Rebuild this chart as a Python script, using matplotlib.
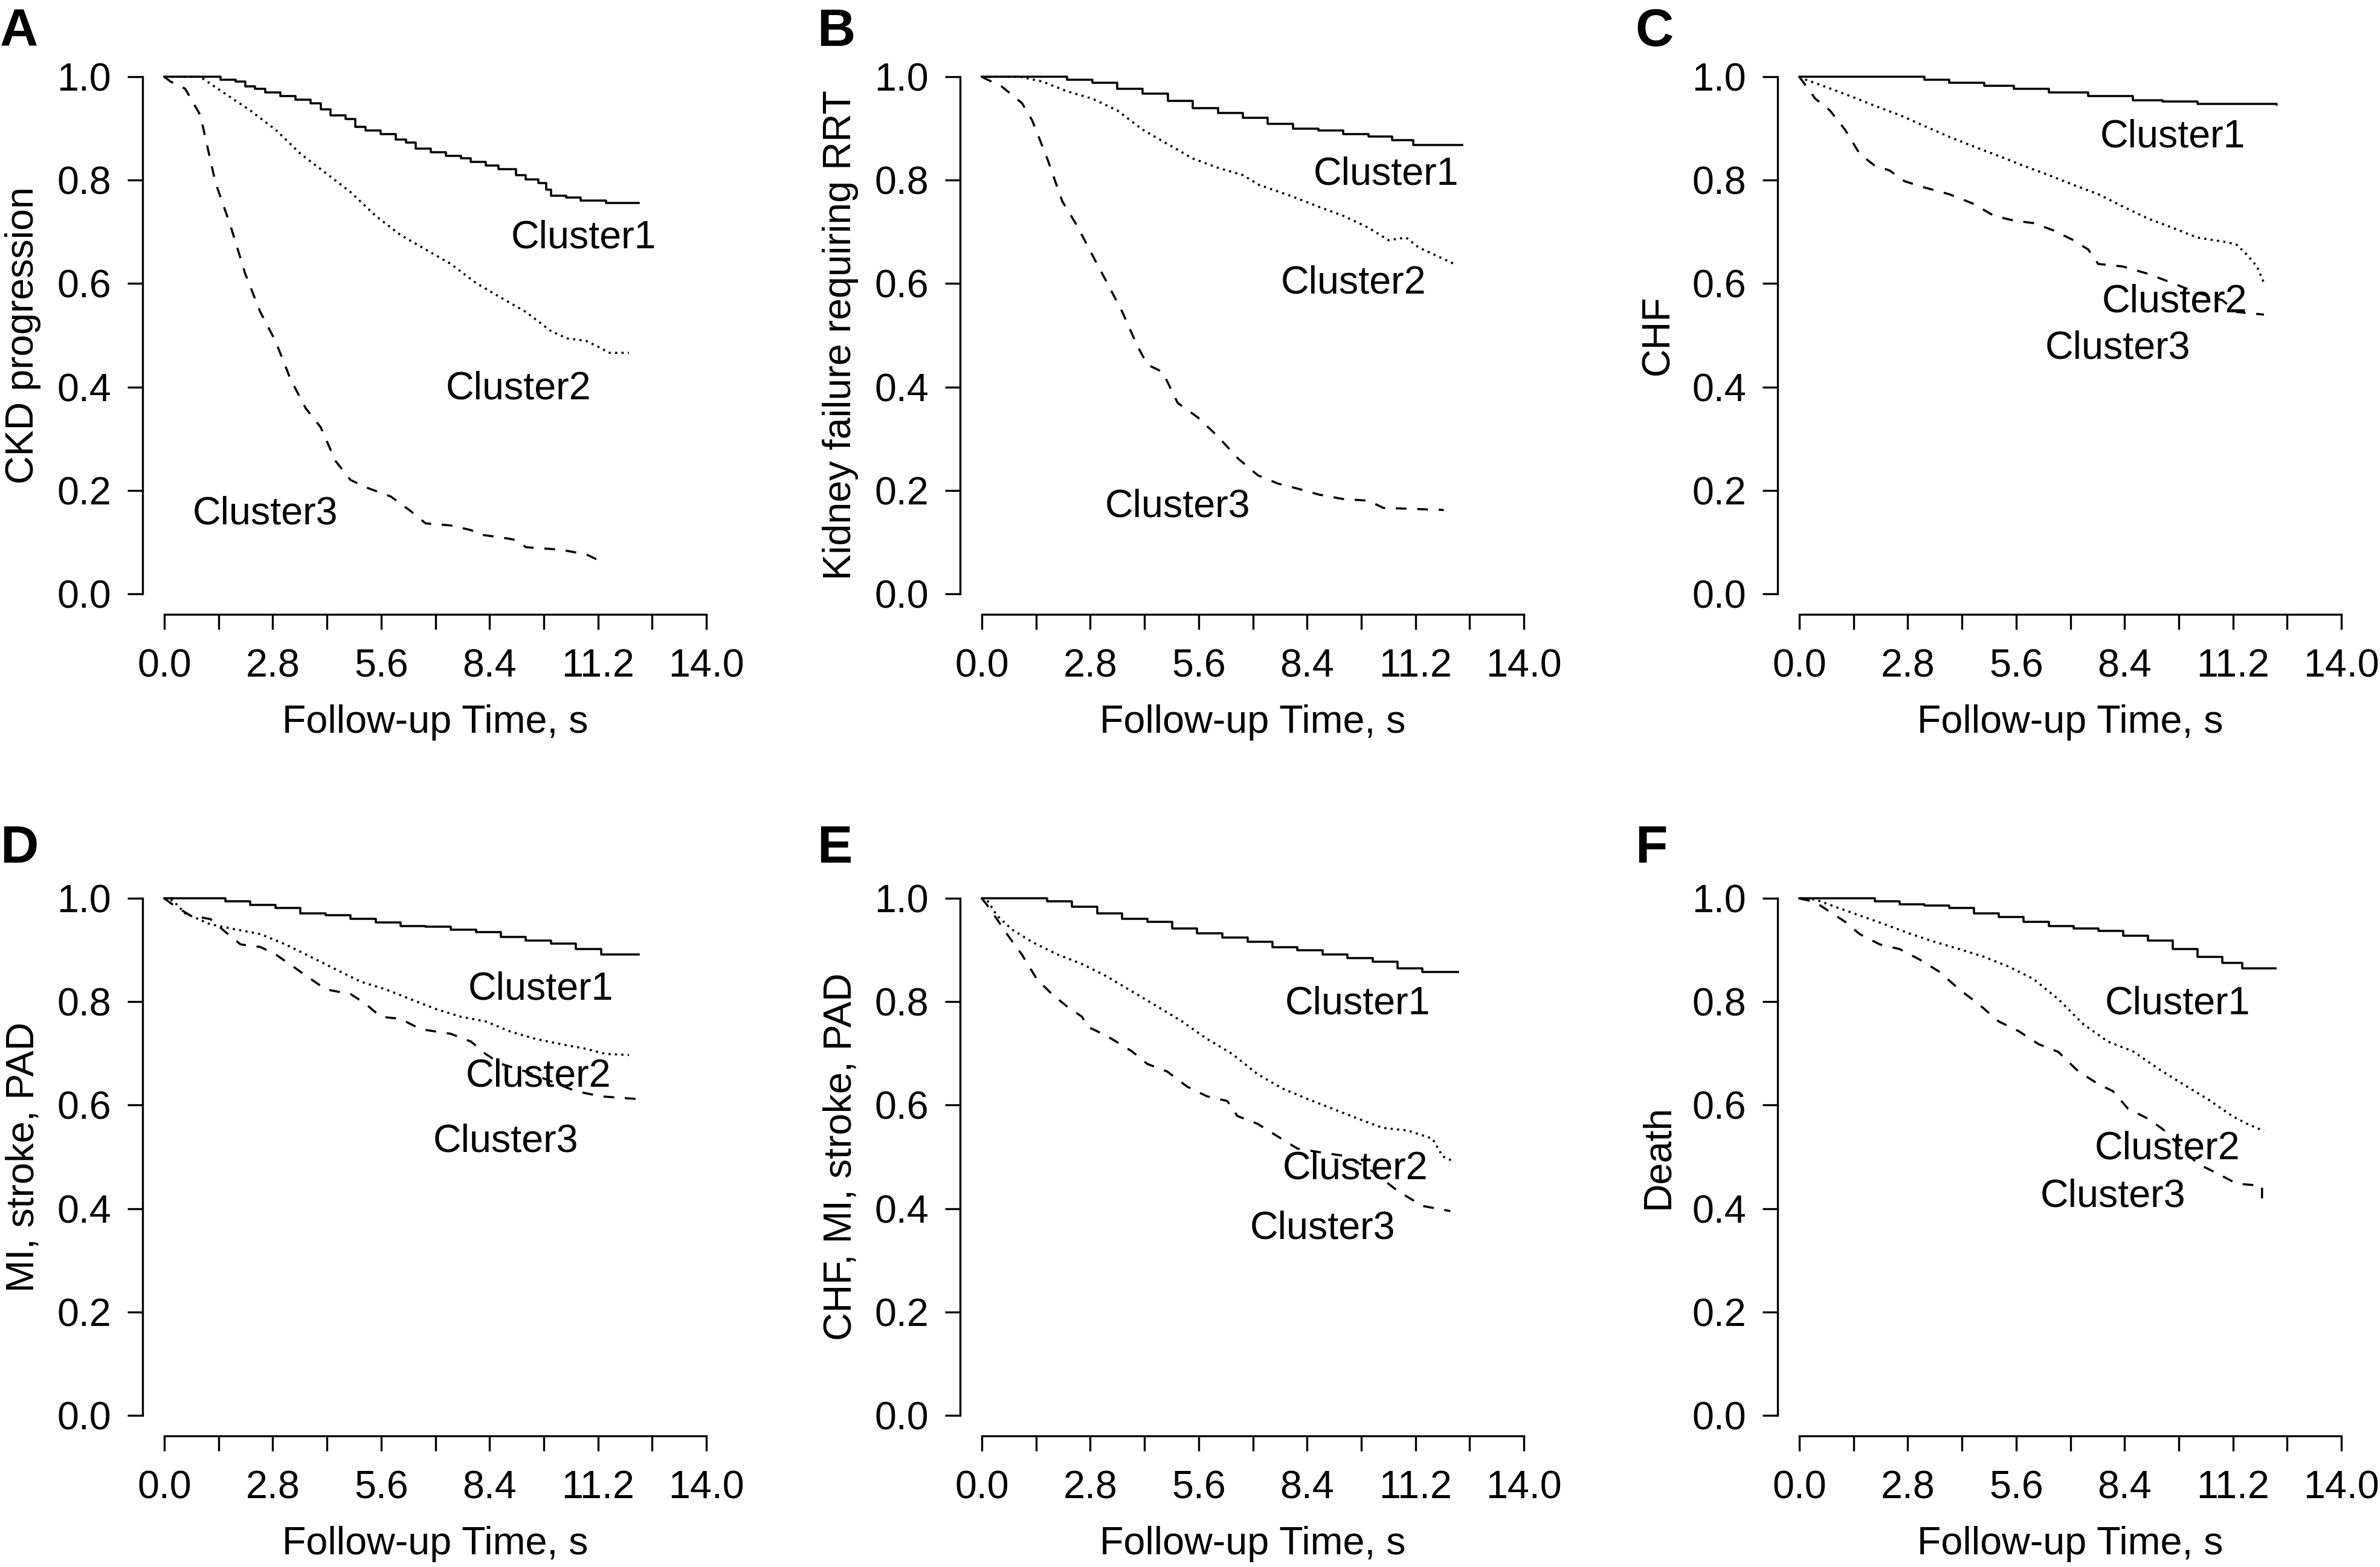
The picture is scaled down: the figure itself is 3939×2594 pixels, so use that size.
import matplotlib
matplotlib.use('Agg')
import matplotlib.pyplot as plt

plt.rcParams['font.family'] = ['Liberation Sans', 'DejaVu Sans']

# follow-up time (x) and event-free proportion (y)
# A - CKD progression
a_t1 = [0, 1.06, 1.45, 1.84, 2.10, 2.35, 2.61, 3.0, 3.39, 3.78, 4.04, 4.29, 4.68, 4.94, 5.2, 5.59, 5.98,
        6.24, 6.49, 6.88, 7.27, 7.66, 7.92, 8.31, 8.63, 9.08, 9.34, 9.66, 9.86, 9.99, 10.38, 10.76, 11.41, 12.25]
a_s1 = [1.0, 1.0, 0.995, 0.991, 0.981, 0.977, 0.970, 0.963, 0.956, 0.949, 0.937, 0.926, 0.918, 0.903, 0.896, 0.889, 0.879,
        0.873, 0.861, 0.854, 0.847, 0.842, 0.835, 0.828, 0.822, 0.810, 0.801, 0.794, 0.782, 0.770, 0.766, 0.761, 0.756, 0.756]
a_t2 = [0, 0.93, 1.58, 2.22, 2.87, 3.52, 4.17, 4.81, 5.46, 6.1, 6.75, 7.4, 8.05, 8.69, 9.34, 9.99, 10.4, 10.9, 11.28, 11.5, 12.0]
a_s2 = [1.0, 1.0, 0.967, 0.935, 0.898, 0.851, 0.814, 0.777, 0.731, 0.694, 0.666, 0.638, 0.601, 0.573, 0.545, 0.508, 0.494, 0.489, 0.475, 0.466, 0.466]
a_t3 = [0, 0.16, 0.54, 0.93, 1.32, 1.71, 2.09, 2.48, 2.87, 3.26, 3.65, 4.04, 4.42, 4.81, 5.2, 5.85, 6.36, 6.75, 7.4, 7.92, 8.18, 8.69, 9.08, 9.34, 10.25, 10.9, 11.15, 11.41]
a_s3 = [1.0, 0.991, 0.977, 0.926, 0.796, 0.712, 0.619, 0.545, 0.489, 0.415, 0.359, 0.322, 0.257, 0.22, 0.206, 0.188, 0.16, 0.136, 0.132, 0.123, 0.114, 0.109, 0.104, 0.09, 0.085, 0.076, 0.067, 0.062]

# B - kidney failure requiring RRT
b_t1 = [0, 1.5, 2.2, 2.85, 3.5, 4.15, 4.8, 5.45, 6.1, 6.74, 7.39, 8.04, 8.69, 9.34, 9.99, 10.6, 11.15, 12.4]
b_s1 = [1.0, 1.0, 0.995, 0.989, 0.977, 0.968, 0.954, 0.940, 0.930, 0.921, 0.909, 0.90, 0.896, 0.889, 0.884, 0.877, 0.868, 0.868]
b_t2 = [0, 1.0, 1.56, 2.2, 2.85, 3.5, 4.15, 4.8, 5.45, 6.1, 6.74, 7.16, 8.04, 8.69, 9.34, 9.99, 10.5, 10.96, 11.28, 11.8, 12.2]
b_s2 = [1.0, 1.0, 0.991, 0.972, 0.958, 0.935, 0.898, 0.870, 0.842, 0.824, 0.810, 0.791, 0.768, 0.749, 0.731, 0.708, 0.684, 0.689, 0.670, 0.652, 0.638]
b_t3 = [0, 0.52, 1.04, 1.3, 1.69, 2.08, 2.46, 2.85, 3.24, 3.63, 4.02, 4.28, 4.67, 5.06, 5.58, 6.1, 6.61, 7.13, 7.65, 8.17, 8.69, 9.34, 9.98, 10.37, 11.93]
b_s3 = [1.0, 0.981, 0.949, 0.916, 0.842, 0.759, 0.712, 0.656, 0.601, 0.545, 0.479, 0.443, 0.429, 0.369, 0.341, 0.304, 0.262, 0.229, 0.213, 0.203, 0.192, 0.183, 0.18, 0.166, 0.162]

# C - CHF
c_t1 = [0, 1.82, 3.23, 3.87, 4.77, 5.54, 6.44, 7.46, 8.62, 9.38, 10.28, 12.33]
c_s1 = [1.0, 1.0, 0.995, 0.989, 0.983, 0.977, 0.970, 0.963, 0.955, 0.952, 0.948, 0.946]
c_t2 = [0, 0.15, 0.67, 1.31, 1.95, 2.59, 3.23, 3.87, 4.51, 5.15, 5.79, 6.44, 7.08, 7.72, 8.36, 9.0, 9.64, 10.28, 11.05, 11.3, 11.56, 11.82, 12.0]
c_s2 = [1.0, 0.995, 0.981, 0.963, 0.944, 0.926, 0.905, 0.884, 0.865, 0.847, 0.828, 0.810, 0.791, 0.773, 0.749, 0.726, 0.708, 0.689, 0.680, 0.675, 0.656, 0.633, 0.601]
c_t3 = [0, 0.09, 0.41, 0.79, 1.18, 1.56, 1.95, 2.33, 2.72, 3.23, 3.87, 4.51, 5.03, 5.54, 6.05, 6.56, 7.08, 7.46, 7.72, 8.36, 9.0, 9.64, 10.28, 10.92, 11.3, 12.0]
c_s3 = [1.0, 0.991, 0.958, 0.935, 0.898, 0.851, 0.828, 0.819, 0.798, 0.786, 0.773, 0.754, 0.731, 0.722, 0.717, 0.703, 0.684, 0.666, 0.638, 0.633, 0.619, 0.601, 0.582, 0.568, 0.545, 0.540]

# D - MI, stroke, PAD
d_t1 = [0, 0.54, 1.58, 2.22, 2.87, 3.52, 4.17, 4.81, 5.46, 6.1, 6.75, 7.4, 8.05, 8.69, 9.34, 9.99, 10.63, 11.28, 12.25]
d_s1 = [1.0, 1.0, 0.995, 0.987, 0.981, 0.971, 0.967, 0.96, 0.953, 0.947, 0.945, 0.94, 0.935, 0.926, 0.918, 0.913, 0.902, 0.892, 0.892]
d_t2 = [0, 0.22, 0.54, 1.19, 1.84, 2.48, 3.13, 3.78, 4.42, 5.07, 5.72, 6.36, 7.01, 7.66, 8.3, 8.95, 9.6, 10.24, 10.89, 11.41, 12.0]
d_s2 = [1.0, 0.996, 0.971, 0.95, 0.94, 0.931, 0.911, 0.887, 0.863, 0.839, 0.824, 0.805, 0.786, 0.771, 0.762, 0.742, 0.728, 0.718, 0.709, 0.699, 0.697]
d_t3 = [0, 0.22, 0.67, 1.19, 1.58, 1.97, 2.48, 2.87, 3.52, 4.17, 4.81, 5.2, 5.59, 6.1, 6.62, 7.4, 7.92, 8.3, 8.69, 9.34, 9.99, 10.63, 11.28, 12.19]
d_s3 = [1.0, 0.988, 0.967, 0.96, 0.935, 0.911, 0.906, 0.892, 0.858, 0.824, 0.815, 0.796, 0.771, 0.767, 0.747, 0.738, 0.723, 0.699, 0.68, 0.665, 0.646, 0.627, 0.617, 0.612]

# E - CHF, MI, stroke, PAD
e_t1 = [0, 1.16, 1.68, 2.33, 2.98, 3.62, 4.27, 4.92, 5.56, 6.21, 6.86, 7.5, 8.15, 8.8, 9.44, 10.09, 10.74, 11.38, 12.29]
e_s1 = [1.0, 1.0, 0.995, 0.984, 0.971, 0.961, 0.955, 0.942, 0.932, 0.924, 0.916, 0.906, 0.9, 0.892, 0.884, 0.878, 0.865, 0.858, 0.858]
e_t2 = [0, 0.13, 0.39, 0.78, 1.29, 1.94, 2.59, 3.23, 3.88, 4.53, 5.17, 5.82, 6.47, 7.12, 7.77, 8.41, 9.06, 9.71, 10.35, 11.0, 11.64, 11.9, 12.16]
e_s2 = [1.0, 0.998, 0.967, 0.94, 0.916, 0.892, 0.873, 0.849, 0.820, 0.791, 0.762, 0.728, 0.699, 0.66, 0.632, 0.612, 0.593, 0.574, 0.556, 0.551, 0.535, 0.501, 0.492]
e_t3 = [0, 0.13, 0.39, 0.65, 1.03, 1.42, 1.81, 2.2, 2.59, 2.72, 2.98, 3.36, 3.88, 4.27, 4.79, 5.3, 5.82, 6.34, 6.6, 7.12, 7.63, 8.15, 8.8, 9.44, 10.09, 10.74, 11.38, 12.1]
e_s3 = [1.0, 0.988, 0.96, 0.931, 0.892, 0.844, 0.815, 0.791, 0.771, 0.752, 0.743, 0.728, 0.704, 0.68, 0.665, 0.636, 0.617, 0.608, 0.579, 0.564, 0.54, 0.516, 0.508, 0.501, 0.472, 0.434, 0.405, 0.395]

# F - death
f_t1 = [0, 0.92, 1.95, 2.59, 3.23, 3.87, 4.51, 5.15, 5.79, 6.44, 7.08, 7.72, 8.36, 9.0, 9.64, 10.28, 10.92, 11.44, 12.3]
f_s1 = [1.0, 1.0, 0.995, 0.988, 0.986, 0.982, 0.971, 0.964, 0.955, 0.947, 0.942, 0.937, 0.928, 0.919, 0.902, 0.887, 0.875, 0.865, 0.865]
f_t2 = [0, 0.41, 0.92, 1.56, 2.2, 2.85, 3.49, 4.13, 4.77, 5.41, 6.05, 6.69, 7.33, 7.97, 8.62, 9.26, 9.9, 10.54, 11.18, 11.56, 12.0]
f_s2 = [1.0, 0.998, 0.984, 0.967, 0.95, 0.932, 0.916, 0.902, 0.887, 0.868, 0.844, 0.805, 0.757, 0.723, 0.704, 0.671, 0.641, 0.612, 0.579, 0.564, 0.55]
f_t3 = [0, 0.41, 0.79, 1.18, 1.56, 2.08, 2.59, 3.1, 3.62, 4.13, 4.64, 5.15, 5.67, 6.18, 6.69, 7.21, 7.72, 8.1, 8.49, 9.0, 9.38, 9.77, 10.28, 10.79, 11.3, 11.95, 11.95]
f_s3 = [1.0, 0.993, 0.974, 0.955, 0.931, 0.911, 0.902, 0.882, 0.858, 0.824, 0.795, 0.762, 0.743, 0.718, 0.703, 0.665, 0.641, 0.627, 0.593, 0.574, 0.554, 0.526, 0.487, 0.468, 0.448, 0.444, 0.41]

panel_letters = ['A', 'B', 'C', 'D', 'E', 'F']
y_titles = ['CKD progression', 'Kidney failure requiring RRT', 'CHF',
            'MI, stroke, PAD', 'CHF, MI, stroke, PAD', 'Death']
cluster_names = ['Cluster1', 'Cluster2', 'Cluster3']
x_ticks = [0, 1.4, 2.8, 4.2, 5.6, 7.0, 8.4, 9.8, 11.2, 12.6, 14.0]
x_ticklabels = ['0.0', '', '2.8', '', '5.6', '', '8.4', '', '11.2', '', '14.0']
y_ticks = [0, 0.2, 0.4, 0.6, 0.8, 1.0]
y_ticklabels = ['0.0', '0.2', '0.4', '0.6', '0.8', '1.0']

curves = [
    [(a_t1, a_s1), (a_t2, a_s2), (a_t3, a_s3)],
    [(b_t1, b_s1), (b_t2, b_s2), (b_t3, b_s3)],
    [(c_t1, c_s1), (c_t2, c_s2), (c_t3, c_s3)],
    [(d_t1, d_s1), (d_t2, d_s2), (d_t3, d_s3)],
    [(e_t1, e_s1), (e_t2, e_s2), (e_t3, e_s3)],
    [(f_t1, f_s1), (f_t2, f_s2), (f_t3, f_s3)],
]

# where the "ClusterN" labels sit (data coords)
label_spots = [
    [(10.83, 0.689), (9.15, 0.396), (2.61, 0.155)],
    [(10.44, 0.812), (9.6, 0.601), (5.06, 0.169)],
    [(9.64, 0.884), (9.7, 0.565), (8.23, 0.475)],
    [(9.73, 0.824), (9.66, 0.656), (8.82, 0.53)],
    [(9.7, 0.796), (9.64, 0.477), (8.8, 0.362)],
    [(9.77, 0.796), (9.51, 0.516), (8.1, 0.424)],
]

W, H = 3939, 2594
fig = plt.figure(figsize=(W / 300, H / 300), dpi=300)

lefts = [236, 1589, 2942]
tops = [93, 1453]
aw, ah = 969, 924
letter_x = [0, 1352, 2706]
letter_y = [13, 1365]
fs = 15.5
lw = 0.85

for i in range(6):
    row, col = divmod(i, 3)
    ax = fig.add_axes([lefts[col] / W, 1 - (tops[row] + ah) / H, aw / W, ah / H])

    (t1, s1), (t2, s2), (t3, s3) = curves[i]
    ax.plot(t1, s1, color='black', lw=lw, drawstyle='steps-post')
    ax.plot(t2, s2, color='black', lw=lw, linestyle=(0, (1, 2)))
    ax.plot(t3, s3, color='black', lw=lw, linestyle=(0, (5, 5)))

    for name, (lx, ly) in zip(cluster_names, label_spots[i]):
        ax.text(lx, ly, name, ha='center', va='center', fontsize=fs)

    # R-style detached axes
    ax.set_xlim(-0.56, 14.56)
    ax.set_ylim(-0.04, 1.04)
    ax.spines['top'].set_visible(False)
    ax.spines['right'].set_visible(False)
    ax.spines['left'].set_bounds(0, 1)
    ax.spines['bottom'].set_bounds(0, 14)
    for s in ['left', 'bottom']:
        ax.spines[s].set_linewidth(0.8)
    ax.set_xticks(x_ticks)
    ax.set_xticklabels(x_ticklabels)
    ax.set_yticks(y_ticks)
    ax.set_yticklabels(y_ticklabels)
    ax.tick_params(axis='both', length=6, width=0.8, labelsize=fs)
    ax.tick_params(axis='x', pad=7.5)
    ax.tick_params(axis='y', pad=6.5)

    ax.set_xlabel('Follow-up Time, s', fontsize=fs, va='center')
    ax.xaxis.set_label_coords(0.5, -0.194)
    ax.set_ylabel(y_titles[i], fontsize=fs, va='center')
    ax.yaxis.set_label_coords(-0.204, 0.5)

    fig.text(letter_x[col] / W, 1 - letter_y[row] / H, panel_letters[i],
             fontsize=21, fontweight='bold', ha='left', va='top')

fig.savefig('out.png', dpi=300)
